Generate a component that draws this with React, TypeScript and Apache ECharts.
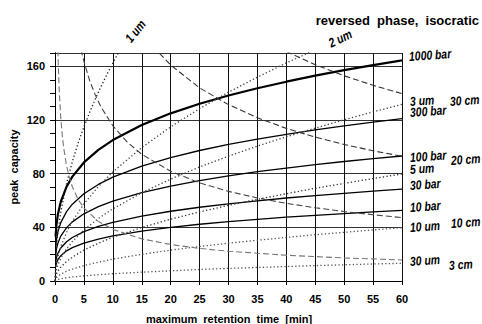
import React, { useEffect, useRef } from 'react';
import * as echarts from 'echarts';

// ---- data ----
const pressureTimes = [0.1, 0.25, 0.5, 1, 2, 3, 5, 7.5, 10, 15, 20, 25, 30, 35, 40, 45, 50, 55, 60];
const bar1000 = [33.2, 41.8, 49.7, 59.1, 70.3, 77.8, 88.4, 97.8, 105.1, 116.3, 125.0, 132.2, 138.3, 143.7, 148.6, 153.1, 157.2, 160.9, 164.5];
const bar300 = [24.5, 30.8, 36.6, 43.5, 51.7, 57.3, 65.0, 72.0, 77.4, 85.6, 92.0, 97.3, 101.8, 105.8, 109.4, 112.7, 115.7, 118.5, 121.1];
const bar100 = [18.8, 23.7, 28.2, 33.5, 39.8, 44.1, 50.1, 55.4, 59.6, 65.9, 70.8, 74.9, 78.4, 81.5, 84.2, 86.8, 89.1, 91.2, 93.2];
const bar30 = [13.8, 17.4, 20.7, 24.6, 29.3, 32.4, 36.8, 40.7, 43.7, 48.4, 52.0, 55.0, 57.5, 59.8, 61.9, 63.7, 65.4, 67.0, 68.5];
const bar10 = [10.6, 13.4, 15.9, 18.9, 22.5, 24.9, 28.3, 31.3, 33.6, 37.2, 40.0, 42.3, 44.2, 46.0, 47.6, 49.0, 50.3, 51.5, 52.6];

const um1Times = [0, 0.25, 0.5, 1, 2, 3, 4, 5, 6, 7, 8, 9, 10, 11];
const um1 = [0, 25.7, 36.3, 51.4, 72.7, 89.0, 102.8, 114.9, 125.9, 136.0, 145.4, 154.2, 162.5, 170.5];
const um2Times = [0, 0.25, 0.5, 1, 2, 3, 5, 7.5, 10, 15, 20, 25, 30, 35, 40, 45];
const um2 = [0, 12.9, 18.2, 25.7, 36.3, 44.5, 57.5, 70.4, 81.3, 99.5, 114.9, 128.5, 140.8, 152.0, 162.6, 172.4];
const particleTimes = [0, 0.25, 0.5, 1, 2, 3, 5, 7.5, 10, 15, 20, 25, 30, 35, 40, 45, 50, 55, 60];
const um3 = [0, 8.5, 12.0, 17.0, 24.0, 29.4, 38.0, 46.6, 53.8, 65.8, 76.0, 85.0, 93.1, 100.6, 107.5, 114.0, 120.2, 126.1, 131.7];
const um5 = [0, 5.2, 7.3, 10.3, 14.6, 17.8, 23.0, 28.2, 32.6, 39.9, 46.1, 51.5, 56.4, 60.9, 65.1, 69.1, 72.8, 76.4, 79.8];
const um10 = [0, 2.6, 3.6, 5.1, 7.3, 8.9, 11.5, 14.1, 16.3, 19.9, 23.0, 25.7, 28.2, 30.4, 32.5, 34.5, 36.3, 38.1, 39.8];
const um30 = [0, 0.9, 1.2, 1.7, 2.4, 3.0, 3.8, 4.7, 5.4, 6.6, 7.6, 8.6, 9.4, 10.1, 10.8, 11.5, 12.1, 12.7, 13.2];

const cm30Times = [40, 45, 50, 55, 60];
const cm30 = [171.1, 161.3, 153.0, 145.9, 139.7];
const cm20Times = [17, 20, 25, 30, 35, 40, 45, 50, 55, 60];
const cm20 = [174.6, 161.0, 144.0, 131.5, 121.7, 113.8, 107.3, 101.8, 97.1, 93.0];
const cm10Times = [4.5, 5, 6, 7, 8, 10, 12.5, 15, 20, 25, 30, 35, 40, 45, 50, 55, 60];
const cm10 = [172.5, 163.7, 149.4, 138.3, 129.4, 115.7, 103.5, 94.5, 81.8, 73.2, 66.8, 61.9, 57.9, 54.6, 51.8, 49.4, 47.3];
const cm3Times = [0.5, 0.6, 0.75, 1, 1.25, 1.5, 2, 2.5, 3, 4, 5, 7.5, 10, 15, 20, 25, 30, 40, 50, 60];
const cm3 = [172.0, 157.0, 140.4, 121.6, 108.8, 99.3, 86.0, 76.9, 70.2, 60.8, 54.4, 44.4, 38.5, 31.4, 27.2, 24.3, 22.2, 19.2, 17.2, 15.7];

const xName = 'maximum  retention  time  [min]';
const yName = 'peak  capacity';
const title = 'reversed  phase,  isocratic';

// annotation texts and placement (layout)
const rightLabels: [string, number, number][] = [
  ['1000 bar', 409, 56],
  ['3 um', 410, 101],
  ['30 cm', 450, 101],
  ['300 bar', 410, 112],
  ['100 bar', 410, 157],
  ['20 cm', 451, 160],
  ['5 um', 410, 169],
  ['30 bar', 410, 185],
  ['10 bar', 410, 207],
  ['10 um', 410, 227],
  ['10 cm', 451, 223],
  ['30 um', 410, 261],
  ['3 cm', 449, 265],
];

const FONT = '"Liberation Sans", Arial, sans-serif';

const zip = (xs: number[], ys: number[]) => xs.map((x, i) => [x, ys[i]]);

function lineSeries(name: string, xs: number[], ys: number[], color: string, width: number, type: any) {
  return {
    name,
    type: 'line',
    data: zip(xs, ys),
    showSymbol: false,
    smooth: false,
    clip: true,
    lineStyle: { color, width, type },
    z: 3,
  };
}

function italicText(text: string, x: number, y: number, rotation: number, align: string) {
  return {
    type: 'text',
    x,
    y,
    rotation,
    scaleX: 0.8,
    style: {
      text,
      fill: '#000',
      fontFamily: FONT,
      fontSize: 13,
      fontWeight: 'bold',
      fontStyle: 'italic',
      align,
      verticalAlign: 'middle',
    },
  };
}

export default function App() {
  const ref = useRef<HTMLDivElement>(null);
  useEffect(() => {
    if (!ref.current) return;
    const chart = echarts.init(ref.current, undefined, { renderer: 'svg' });
    const DOT: any = [1.3, 2.3];
    const DASH: any = [6, 3];
    const labelStyle = { fontSize: 11, fontWeight: 'bold', color: '#000', fontFamily: FONT };
    const option: any = {
      animation: false,
      backgroundColor: '#ffffff',
      grid: { left: 55, right: 80, top: 53, bottom: 43 },
      xAxis: {
        type: 'value',
        min: 0,
        max: 60,
        interval: 5,
        axisLine: { show: true, lineStyle: { color: '#000', width: 1 } },
        axisTick: { show: true, length: 4, lineStyle: { color: '#000' } },
        axisLabel: { margin: 12, ...labelStyle },
        splitLine: { show: true, lineStyle: { color: '#111', width: 1 } },
      },
      yAxis: [
        {
          type: 'value',
          min: 0,
          max: 170,
          interval: 40,
          position: 'left',
          axisLine: { show: true, lineStyle: { color: '#000', width: 1 } },
          axisTick: { show: false },
          axisLabel: {
            margin: 10,
            ...labelStyle,
            formatter: (v: number) => (v % 40 === 0 ? String(v) : ''),
          },
          splitLine: { show: true, lineStyle: { color: '#333', width: 1 } },
        },
        {
          type: 'value',
          min: 0,
          max: 170,
          interval: 10,
          position: 'left',
          offset: 0,
          axisLine: { show: true, lineStyle: { color: '#000', width: 1 } },
          axisTick: { show: true, length: 5, lineStyle: { color: '#000' } },
          axisLabel: { show: false },
          splitLine: { show: false },
        },
      ],
      series: [
        lineSeries('1000 bar', pressureTimes, bar1000, '#000', 2.2, 'solid'),
        lineSeries('300 bar', pressureTimes, bar300, '#000', 1.3, 'solid'),
        lineSeries('100 bar', pressureTimes, bar100, '#000', 1.3, 'solid'),
        lineSeries('30 bar', pressureTimes, bar30, '#000', 1.3, 'solid'),
        lineSeries('10 bar', pressureTimes, bar10, '#000', 1.3, 'solid'),
        lineSeries('1 um', um1Times, um1, '#222', 1.3, DOT),
        lineSeries('2 um', um2Times, um2, '#444', 1.3, DOT),
        lineSeries('3 um', particleTimes, um3, '#444', 1.3, DOT),
        lineSeries('5 um', particleTimes, um5, '#333', 1.3, DOT),
        lineSeries('10 um', particleTimes, um10, '#555', 1.3, DOT),
        lineSeries('30 um', particleTimes, um30, '#555', 1.3, DOT),
        lineSeries('30 cm', cm30Times, cm30, '#333', 1.1, DASH),
        lineSeries('20 cm', cm20Times, cm20, '#333', 1.1, DASH),
        lineSeries('10 cm', cm10Times, cm10, '#444', 1.1, DASH),
        lineSeries('3 cm', cm3Times, cm3, '#777', 1.1, DASH),
      ],
      graphic: [
        {
          type: 'text',
          x: 479,
          y: 20,
          style: { text: title, fill: '#000', fontFamily: FONT, fontSize: 13, fontWeight: 'bold', align: 'right', verticalAlign: 'middle' },
        },
        {
          type: 'text',
          x: 229,
          y: 319,
          style: { text: xName, fill: '#000', fontFamily: FONT, fontSize: 11, fontWeight: 'bold', align: 'center', verticalAlign: 'middle' },
        },
        {
          type: 'text',
          x: 14,
          y: 167,
          rotation: Math.PI / 2,
          style: { text: yName, fill: '#000', fontFamily: FONT, fontSize: 11, fontWeight: 'bold', align: 'center', verticalAlign: 'middle' },
        },
        italicText('1 um', 135, 31, 0.9, 'center'),
        italicText('2 um', 340, 38, 0.45, 'center'),
        ...rightLabels.map(([t, x, y]) => italicText(t, x, y, 0.07, 'left')),
      ],
    };
    chart.setOption(option);
    return () => chart.dispose();
  }, []);
  return (
    <div
      ref={ref}
      style={{ position: 'fixed', left: 0, top: 0, width: 482, height: 324, background: '#fff' }}
    />
  );
}
